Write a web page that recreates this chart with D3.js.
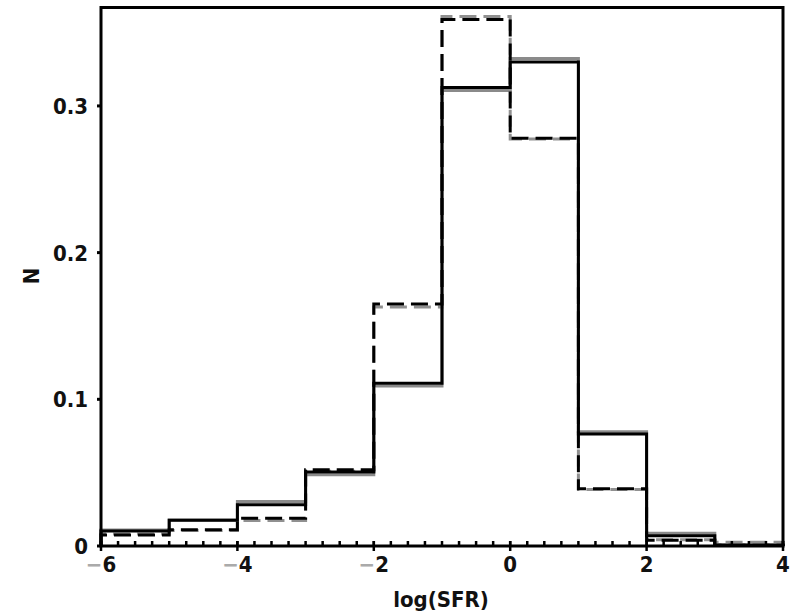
<!DOCTYPE html>
<html>
<head>
<meta charset="utf-8">
<script src="https://cdn.jsdelivr.net/npm/d3@7"></script>
<style>
  body { margin: 0; background: #fff; }
  svg text { font-family: "DejaVu Sans Condensed", "DejaVu Sans", sans-serif; font-weight: bold; }
</style>
</head>
<body>
<svg id="chart" width="792" height="614"></svg>
<script>
// Bin edges of log(SFR)
const binEdges = [-6, -5, -4, -3, -2, -1, 0, 1, 2, 3, 4];
// Histogram fractions N per bin
const solidBlack  = [0.0102, 0.0175, 0.0282, 0.0505, 0.111, 0.3125, 0.330, 0.0763, 0.0070, 0.0005];
const solidGray   = [0.0109, 0.0177, 0.0303, 0.0485, 0.109, 0.3106, 0.3324, 0.0779, 0.0087, 0.0010];
const dashedBlack = [0.0075, 0.0110, 0.0190, 0.0520, 0.165, 0.359, 0.278, 0.0390, 0.0040, 0.0005];
const dashedGray  = [0.0082, 0.0105, 0.0174, 0.0510, 0.163, 0.361, 0.2775, 0.0385, 0.0042, 0.0025];
const xTicks = [-6, -4, -2, 0, 2, 4];
const yTicks = [0, 0.1, 0.2, 0.3];
const xLabel = "log(SFR)";
const yLabel = "N";

const svg = d3.select("#chart");
const L = 101, R = 783, T = 7.5, B = 546;
const x = d3.scaleLinear().domain([-6, 4]).range([L, R]);
const y = d3.scaleLinear().domain([0, 0.3671]).range([B, T]);

function stepPoints(vals) {
  const pts = [[binEdges[0], 0]];
  vals.forEach((v, i) => pts.push([binEdges[i], v]));
  pts.push([binEdges[binEdges.length - 1], vals[vals.length - 1]]);
  pts.push([binEdges[binEdges.length - 1], 0]);
  return pts;
}
const line = d3.line().x(d => x(d[0])).y(d => y(d[1])).curve(d3.curveStepAfter);

const series = [
  { v: solidGray, c: "#8a8a8a", dash: null, w: 3 },
  { v: dashedGray, c: "#909090", dash: "17,7", w: 3 },
  { v: solidBlack, c: "#000", dash: null, w: 3 },
  { v: dashedBlack, c: "#000", dash: "17,7", w: 3 }
];
series.forEach(s => {
  svg.append("path")
    .attr("d", line(stepPoints(s.v)))
    .attr("fill", "none")
    .attr("stroke", s.c)
    .attr("stroke-width", s.w)
    .attr("stroke-dasharray", s.dash);
});

// Frame
svg.append("rect").attr("x", L).attr("y", T).attr("width", R - L).attr("height", B - T)
  .attr("fill", "none").attr("stroke", "#000").attr("stroke-width", 3);

// X axis minor ticks (inside) and major ticks (through)
const minor = d3.range(-6, 4.001, 0.25);
svg.append("g").selectAll("line").data(minor).join("line")
  .attr("x1", d => x(d)).attr("x2", d => x(d))
  .attr("y1", B).attr("y2", B - 5)
  .attr("stroke", "#000").attr("stroke-width", 2.5);
svg.append("g").selectAll("line").data(xTicks).join("line")
  .attr("x1", d => x(d)).attr("x2", d => x(d))
  .attr("y1", B - 5).attr("y2", B + 5)
  .attr("stroke", "#000").attr("stroke-width", 2.5);

// Y ticks
svg.append("g").selectAll("line").data(yTicks).join("line")
  .attr("x1", L - 4).attr("x2", L)
  .attr("y1", d => y(d)).attr("y2", d => y(d))
  .attr("stroke", "#000").attr("stroke-width", 3);

// Y tick labels
svg.append("g").selectAll("text").data(yTicks).join("text")
  .attr("x", 88).attr("y", d => y(d) + 8)
  .attr("text-anchor", "end")
  .attr("font-size", 22)
  .attr("fill", "#111")
  .text(d => d === 0 ? "0" : d3.format(".1f")(d));

// X tick labels
const xt = svg.append("g").selectAll("text").data(xTicks).join("text")
  .attr("x", d => x(d)).attr("y", B + 26)
  .attr("text-anchor", "middle")
  .attr("font-size", 22)
  .attr("fill", "#111");
xt.each(function(d) {
  const t = d3.select(this);
  if (d < 0) {
    t.append("tspan").attr("fill", "#aaa").text("\u2212");
    t.append("tspan").text(String(Math.abs(d)));
  } else {
    t.text(String(d));
  }
});

// Axis labels
svg.append("text").attr("x", 441).attr("y", 607)
  .attr("text-anchor", "middle").attr("font-size", 22).attr("fill", "#111")
  .text(xLabel);
svg.append("text")
  .attr("transform", "translate(39,276) rotate(-90)")
  .attr("text-anchor", "middle").attr("font-size", 22).attr("fill", "#111")
  .text(yLabel);
</script>
</body>
</html>
